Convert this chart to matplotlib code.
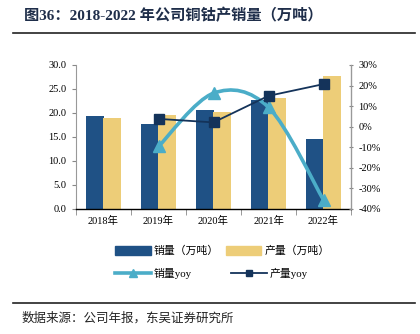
import numpy as np
import matplotlib
matplotlib.use("Agg")
import matplotlib.pyplot as plt
from matplotlib.path import Path
from matplotlib.patches import PathPatch, Patch
from matplotlib.lines import Line2D
from matplotlib.ticker import FuncFormatter

plt.rcParams['font.family'] = ['Liberation Serif', 'Noto Sans CJK SC']

years = ["2018年", "2019年", "2020年", "2021年", "2022年"]
sales = [19.4, 17.7, 20.7, 22.8, 14.6]
production = [19.0, 19.6, 20.3, 23.2, 27.7]
sales_yoy = [None, -9.6, 16.3, 9.4, -35.6]
prod_yoy = [None, 3.8, 2.1, 15.0, 20.7]

c_sales = "#1F5185"
c_prod = "#EDCD78"
c_syoy = "#4BADC8"
c_pyoy = "#14335A"


def smooth_path(xs, ys, t=1/6):
    # Excel-like smoothed line as cubic Bezier segments through the points
    pts = list(zip(xs, ys))
    verts = [pts[0]]
    codes = [Path.MOVETO]
    n = len(pts)
    for i in range(n - 1):
        p0 = pts[i - 1] if i > 0 else pts[i]
        p1 = pts[i]
        p2 = pts[i + 1]
        p3 = pts[i + 2] if i + 2 < n else pts[i + 1]
        c1 = (p1[0] + (p2[0] - p0[0]) * t, p1[1] + (p2[1] - p0[1]) * t)
        c2 = (p2[0] - (p3[0] - p1[0]) * t, p2[1] - (p3[1] - p1[1]) * t)
        verts += [c1, c2, p2]
        codes += [Path.CURVE4] * 3
    return Path(verts, codes)


fig = plt.figure(figsize=(4.2, 3.34), dpi=100)
ax = fig.add_axes([76 / 420, 1 - 209 / 334, 275 / 420, 144 / 334])
ax2 = ax.twinx()

x = np.arange(len(years))
w = 0.33
ax.bar(x - 0.15, sales, w, color=c_sales, zorder=2)
ax.bar(x + 0.16, production, w, color=c_prod, zorder=2)

ax.set_xlim(-0.5, len(years) - 0.5)
ax.set_ylim(0, 30)
ax.set_yticks(np.arange(0, 31, 5))
ax.yaxis.set_major_formatter(FuncFormatter(lambda v, p: f"{v:.1f}"))
ax.set_xticks(x)
ax.set_xticklabels(years)
ax.set_xticks(np.arange(-0.5, len(years), 1), minor=True)
ax.tick_params(axis='x', which='major', length=0, labelsize=7.5, pad=5)
ax.tick_params(axis='x', which='minor', length=4, color='#888888')
ax.tick_params(axis='y', labelsize=7.5, length=3, color='#888888', pad=4)

yx = [xi for xi, v in zip(x, sales_yoy) if v is not None]
sy = [v for v in sales_yoy if v is not None]
py = [v for v in prod_yoy if v is not None]

ax2.add_patch(PathPatch(smooth_path(yx, sy), fill=False, edgecolor=c_syoy,
                        lw=2.6, zorder=3))
ax2.plot(yx, sy, ls='none', marker='^', ms=9, color=c_syoy, zorder=4)
ax2.plot(yx, py, color=c_pyoy, lw=1.3, marker='s', ms=7, zorder=5)
ax2.set_ylim(-40, 30)
ax2.set_yticks(np.arange(-40, 31, 10))
ax2.yaxis.set_major_formatter(FuncFormatter(lambda v, p: f"{v:.0f}%"))
ax2.tick_params(axis='y', labelsize=7.5, length=3, color='#888888', pad=4,
                direction='inout')

for a in (ax, ax2):
    a.spines['top'].set_visible(False)
ax.spines['left'].set_color('#999999')
ax2.spines['right'].set_color('#999999')
ax2.spines['left'].set_visible(False)
ax2.spines['bottom'].set_visible(False)
ax.spines['bottom'].set_color('black')
ax.spines['bottom'].set_linewidth(1.0)
ax.set_zorder(ax2.get_zorder() - 1)
ax2.patch.set_visible(False)

cjk = ['Liberation Serif', 'Noto Sans CJK SC']
handles1 = [Patch(color=c_sales, label="销量（万吨）"),
            Patch(color=c_prod, label="产量（万吨）")]
handles2 = [Line2D([], [], color=c_syoy, lw=2.6, marker='^', ms=6, label="销量yoy"),
            Line2D([], [], color=c_pyoy, lw=1.3, marker='s', ms=5, label="产量yoy")]
fig.legend(handles=handles1, loc='center left', bbox_to_anchor=(105 / 420, 1 - 251 / 334),
           ncol=2, frameon=False, prop={'family': cjk, 'size': 7.8},
           handlelength=3.3, handleheight=0.9, columnspacing=0.6, handletextpad=0.3)
fig.legend(handles=handles2, loc='center left', bbox_to_anchor=(105 / 420, 1 - 273 / 334),
           ncol=2, frameon=False, prop={'family': cjk, 'size': 7.8},
           handlelength=3.3, columnspacing=3.6, handletextpad=0.3)

fig.text(24 / 420, 1 - 16 / 334, "图36：2018-2022 年公司铜钴产销量（万吨）",
         fontsize=11, fontweight='bold', color='#1F2E4A', va='center',
         family=['Liberation Serif', 'Noto Sans CJK SC'])
fig.add_artist(Line2D([13 / 420, 415 / 420], [1 - 33 / 334, 1 - 33 / 334],
                      color='#222222', lw=1.2))
fig.add_artist(Line2D([13 / 420, 415 / 420], [1 - 303 / 334, 1 - 303 / 334],
                      color='#222222', lw=1.2))
fig.text(22 / 420, 1 - 318 / 334, "数据来源：公司年报，东吴证券研究所",
         fontsize=9, color='#222222', va='center', family=['Noto Sans CJK SC'])

fig.savefig("out.png", dpi=100)
